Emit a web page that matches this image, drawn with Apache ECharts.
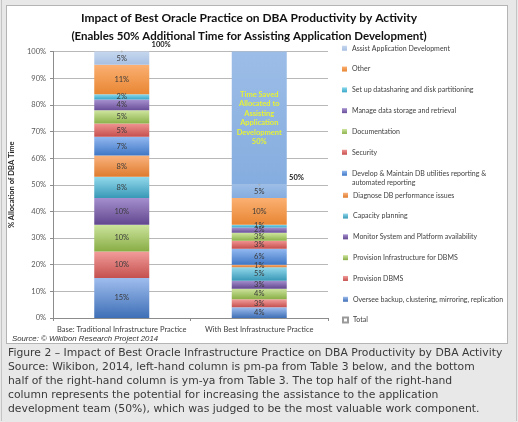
<!DOCTYPE html>
<html>
<head>
<meta charset="utf-8">
<script src="https://cdn.jsdelivr.net/npm/echarts@6.0.0/dist/echarts.min.js"></script>
<style>
  html, body { margin: 0; padding: 0; }
  body { width: 518px; height: 422px; background: #e8e8e8; position: relative; overflow: hidden; }
  #frame { position: absolute; left: 1px; top: -1px; width: 514px; height: 422px; border-left: 1px solid #c4c4c4; border-right: 1px solid #c4c4c4; }
  #panel { position: absolute; left: 6px; top: 5px; width: 500px; height: 337px; background: #fff; border: 1px solid #b4b4b4; }
  #chart { position: absolute; left: 0; top: 0; width: 518px; height: 422px; }
  #caption { position: absolute; left: 8px; top: 346px; font-family: "DejaVu Sans", Verdana, sans-serif; font-size: 10.8px; line-height: 14px; color: #3a3a3a; white-space: nowrap; }
</style>
</head>
<body>
<div id="frame"></div>
<div id="panel"></div>
<div id="chart"></div>
<div id="caption">
Figure 2 – Impact of Best Oracle Infrastructure Practice on DBA Productivity by DBA Activity<br>
Source: Wikibon, 2014, left-hand column is pm-pa from Table 3 below, and the bottom<br>
half of the right-hand column is ym-ya from Table 3. The top half of the right-hand<br>
column represents the potential for increasing the assistance to the application<br>
development team (50%), which was judged to be the most valuable work component.
</div>
<script>
// categories on the x axis
const categories = ["Base: Traditional Infrastructure Practice", "With Best Infrastructure Practice"];

// activities, bottom of the stack first
const activities = [
  "Oversee backup, clustering, mirroring, replication",
  "Provision DBMS",
  "Provision Infrastructure for DBMS",
  "Monitor System and Platform availability",
  "Capacity planning",
  "Diagnose DB performance issues",
  "Develop & Maintain DB utilities reporting & automated reporting",
  "Security",
  "Documentation",
  "Manage data storage and retrieval",
  "Set up datasharing and disk partitioning",
  "Other",
  "Assist Application Development"
];

// % of DBA time, same order as activities
const baseValues = [15, 10, 10, 10, 8, 8, 7, 5, 5, 4, 2, 11, 5];
const bestValues = [4, 3, 4, 3, 5, 1, 6, 3, 3, 2, 1, 10, 5];

const timeSavedValues = ["-", 50];
const totalValues = [100, 50];

// top / bottom colours of each segment (excel-ish gradients)
const segColors = [
  ["#9fbdee", "#3e6fb6"],
  ["#f29d9b", "#c4504e"],
  ["#cde49d", "#88ad45"],
  ["#a58fce", "#62478f"],
  ["#92d9ec", "#3898b6"],
  ["#fab37e", "#de7b2e"],
  ["#93b9f0", "#3f77c6"],
  ["#f09492", "#c54f4d"],
  ["#cfe6a0", "#8cb24a"],
  ["#a892d0", "#6a4f99"],
  ["#8ddaee", "#38a6c6"],
  ["#fbb072", "#e88633"],
  ["#c6d8ef", "#a7bfe2"]
];
const savedColor = ["#9cbde7", "#85addf"];

function grad(c) {
  return new echarts.graphic.LinearGradient(0, 0, 0, 1, [
    { offset: 0, color: c[0] },
    { offset: 1, color: c[1] }
  ]);
}

const labelFont = "Lato, 'Open Sans', sans-serif";

let series = activities.map(function (name, i) {
  let best = { value: bestValues[i] };
  if (i === activities.length - 1) {
    best.itemStyle = { color: grad(savedColor) }; // right column assist segment shares the saved-time colour
  }
  return {
    name: name,
    type: "bar",
    stack: "dba",
    barWidth: 55,
    itemStyle: { color: grad(segColors[i]) },
    label: {
      show: true,
      position: "inside",
      formatter: "{c}%",
      fontSize: 7.5,
      fontFamily: labelFont,
      color: "#3a3a3a"
    },
    data: [baseValues[i], best]
  };
});

series.push({
  name: "Time Saved",
  type: "bar",
  stack: "dba",
  barWidth: 55,
  itemStyle: { color: grad(savedColor) },
  label: {
    show: true,
    position: "inside",
    formatter: function (p) {
      return "Time Saved\nAllocated to\nAssisting\nApplication\nDevelopment\n" + p.value + "%";
    },
    fontSize: 7.5,
    fontWeight: "bold",
    lineHeight: 9.4,
    fontFamily: labelFont,
    color: "#e6f236"
  },
  data: timeSavedValues
});

series.push({
  name: "Total",
  type: "scatter",
  symbol: "rect",
  symbolSize: 1,
  itemStyle: { color: "#fff", borderColor: "#9a9a9a", borderWidth: 0.6, opacity: 1 },
  label: {
    show: true,
    position: "right",
    offset: [24, -7],
    formatter: "{c}%",
    fontSize: 7.5,
    fontWeight: "bold",
    fontFamily: labelFont,
    color: "#1a1a1a"
  },
  z: 5,
  data: totalValues
});

const legendText = {
  fontSize: 7,
  lineHeight: 9.5,
  fontFamily: labelFont,
  color: "#404040"
};
const legendBase = {
  orient: "vertical",
  left: 342,
  padding: 0,
  icon: "rect",
  itemWidth: 5,
  itemHeight: 5,
  itemGap: 11.3,
  selectedMode: false,
  textStyle: legendText
};
const rev = activities.slice().reverse();

let option = {
  animation: false,
  title: [
    {
      text: "Impact of Best Oracle Practice on DBA Productivity by Activity",
      left: 244,
      top: 7,
      textAlign: "center",
      textStyle: { fontSize: 12, fontWeight: "bold", color: "#111", fontFamily: labelFont }
    },
    {
      text: "(Enables 50% Additional Time for Assisting Application Development)",
      left: 244,
      top: 25,
      textAlign: "center",
      textStyle: { fontSize: 11.5, fontWeight: "bold", color: "#111", fontFamily: labelFont }
    }
  ],
  legend: [
    Object.assign({}, legendBase, { top: 43.5, data: rev.slice(0, 6) }),
    Object.assign({}, legendBase, {
      top: 159,
      data: [rev[6]],
      formatter: function () {
        return "\nDevelop & Maintain DB utilities reporting &\nautomated reporting";
      }
    }),
    Object.assign({}, legendBase, { top: 190.5, data: rev.slice(7).concat(["Total"]) })
  ],
  grid: { left: 53, right: 190, top: 51.5, bottom: 104 },
  xAxis: {
    type: "category",
    data: categories,
    axisLine: { lineStyle: { color: "#8c8c8c" } },
    axisTick: { show: true, length: 3, lineStyle: { color: "#8c8c8c" } },
    axisLabel: { interval: 0, fontSize: 7.5, color: "#404040", fontFamily: labelFont, margin: 8 }
  },
  yAxis: {
    type: "value",
    min: 0,
    max: 100,
    interval: 10,
    name: "% Allocation of DBA Time",
    nameLocation: "middle",
    nameGap: 28,
    nameTextStyle: { fontSize: 7.5, fontWeight: "bold", color: "#262626", fontFamily: labelFont },
    axisLine: { show: true, lineStyle: { color: "#8c8c8c" } },
    axisTick: { show: true, length: 3, lineStyle: { color: "#8c8c8c" } },
    axisLabel: { formatter: "{value}%", fontSize: 7.5, color: "#595959", fontFamily: labelFont, margin: 7 },
    splitLine: { lineStyle: { color: "#a6a6a6", width: 0.8 } }
  },
  graphic: [
    {
      type: "text",
      left: 12,
      top: 335,
      style: {
        text: "Source: © Wikibon Research Project 2014",
        fontSize: 7.8,
        fontStyle: "italic",
        fontFamily: "'Liberation Sans', Arial, sans-serif",
        fill: "#333"
      }
    }
  ],
  series: series
};

let chart = echarts.init(document.getElementById("chart"));
chart.setOption(option);
</script>
</body>
</html>
